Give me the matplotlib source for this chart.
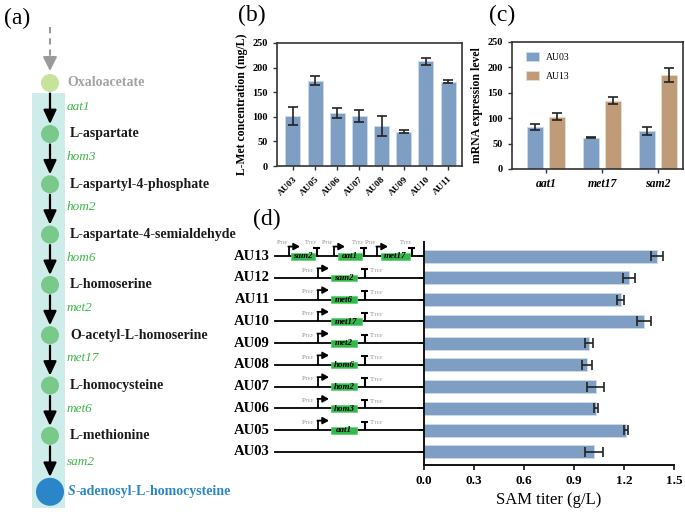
import matplotlib
matplotlib.use('Agg')
import matplotlib.pyplot as plt
from matplotlib.patches import Circle, Rectangle
import numpy as np

plt.rcParams['font.family'] = ['Liberation Serif', 'DejaVu Serif']
plt.rcParams['mathtext.fontset'] = 'custom'
plt.rcParams['mathtext.rm'] = 'Liberation Serif'
plt.rcParams['mathtext.it'] = 'Liberation Serif:italic'
plt.rcParams['mathtext.bf'] = 'Liberation Serif:bold'

# ---------------- data ----------------
met_strains = ['AU03', 'AU05', 'AU06', 'AU07', 'AU08', 'AU09', 'AU10', 'AU11']
met_conc = [101, 173, 107, 102, 81, 70, 213, 171]
met_err = [18, 9, 10, 12, 21, 3, 7, 3]

genes_c = ['aat1', 'met17', 'sam2']
mrna_au03 = [82, 62, 74]
mrna_au03_err = [6, 1, 8]
mrna_au13 = [103, 134, 185]
mrna_au13_err = [7, 7, 14]

sam_strains = ['AU13', 'AU12', 'AU11', 'AU10', 'AU09', 'AU08', 'AU07', 'AU06', 'AU05', 'AU03']
sam_titer = [1.40, 1.23, 1.18, 1.32, 0.99, 0.98, 1.03, 1.03, 1.21, 1.02]
sam_err = [0.036, 0.034, 0.022, 0.044, 0.025, 0.030, 0.052, 0.012, 0.012, 0.055]
constructs = [['sam2', 'aat1', 'met17'], ['sam2'], ['met6'], ['met17'], ['met2'],
              ['hom6'], ['hom2'], ['hom3'], ['aat1'], []]
sam_ticks = [0.0, 0.3, 0.6, 0.9, 1.2, 1.5]

metabolites = ['L-aspartate', 'L-aspartyl-4-phosphate', 'L-aspartate-4-semialdehyde',
               'L-homoserine', 'O-acetyl-L-homoserine', 'L-homocysteine', 'L-methionine']
enzymes = ['aat1', 'hom3', 'hom2', 'hom6', 'met2', 'met17', 'met6', 'sam2']

BLUE = '#7f9ec4'
TAN = '#bf9b78'
EDGE = '#222222'

W, H = 685, 515
fig = plt.figure(figsize=(W / 100, H / 100), dpi=100)


def rect(x0, y0, x1, y1):
    return [x0 / W, 1 - y1 / H, (x1 - x0) / W, (y1 - y0) / H]


def style_box(ax):
    for s in ax.spines.values():
        s.set_linewidth(1.2)
        s.set_color('#333333')
    ax.tick_params(direction='out', length=3, width=1, color='#333333')


err_kw = dict(elinewidth=1.2, capthick=1.2, ecolor=EDGE)

# ---------------- panel (b) ----------------
axb = fig.add_axes(rect(277, 43, 462, 166))
xb = np.arange(len(met_strains))
axb.bar(xb, met_conc, width=0.68, color=BLUE, edgecolor='#cfdcec', linewidth=0.6,
        yerr=met_err, capsize=3.5, error_kw=err_kw)
axb.set_xlim(-0.72, 7.63)
axb.set_ylim(0, 250)
axb.set_yticks([0, 50, 100, 150, 200, 250])
axb.set_xticks(xb)
axb.set_xticklabels(met_strains, rotation=45, ha='right', rotation_mode='anchor',
                    fontsize=6.8, fontweight='bold')
for t in axb.get_yticklabels():
    t.set_fontsize(7.5)
    t.set_fontweight('bold')
axb.set_ylabel('L-Met concentration (mg/L)', fontsize=8.5, fontweight='bold', labelpad=3)
style_box(axb)

# ---------------- panel (c) ----------------
axc = fig.add_axes(rect(512, 42, 683, 169))
xc = np.arange(len(genes_c))
off = 0.196
bw = 0.27
b1 = axc.bar(xc - off, mrna_au03, width=bw, color=BLUE, edgecolor='#cfdcec', linewidth=0.6,
             yerr=mrna_au03_err, capsize=3.5, error_kw=err_kw, label='AU03')
b2 = axc.bar(xc + off, mrna_au13, width=bw, color=TAN, edgecolor='#ecdccc', linewidth=0.6,
             yerr=mrna_au13_err, capsize=3.5, error_kw=err_kw, label='AU13')
axc.set_xlim(-0.607, 2.446)
axc.set_ylim(0, 250)
axc.set_yticks([0, 50, 100, 150, 200, 250])
axc.set_xticks(xc)
axc.set_xticklabels(genes_c, fontsize=8.5, fontweight='bold', fontstyle='italic')
for t in axc.get_yticklabels():
    t.set_fontsize(7.5)
    t.set_fontweight('bold')
axc.set_ylabel('mRNA expression level', fontsize=8.5, fontweight='bold', labelpad=3)
axc.legend(handles=[b1, b2], loc='upper left', bbox_to_anchor=(0.03, 0.99), frameon=False,
           fontsize=7, handlelength=1.4, handleheight=1.1, labelspacing=0.9, handletextpad=0.7)
style_box(axc)

# ---------------- panel (d) bars ----------------
axd = fig.add_axes(rect(424, 242, 674, 465))
yd = np.arange(len(sam_strains))[::-1]
axd.barh(yd, sam_titer, height=0.6, color=BLUE, edgecolor='#cfdcec', linewidth=0.6,
         xerr=sam_err, capsize=3.5, error_kw=err_kw)
axd.set_xlim(0, 1.5)
axd.set_ylim(-0.6, 9.65)
axd.set_xticks(sam_ticks)
axd.set_xticklabels(['%.1f' % v for v in sam_ticks], fontsize=9.5, fontweight='bold')
axd.set_yticks(yd)
axd.set_yticklabels([])
axd.spines['top'].set_visible(False)
axd.spines['right'].set_visible(False)
for s in ('left', 'bottom'):
    axd.spines[s].set_linewidth(1.4)
    axd.spines[s].set_color('#111111')
axd.tick_params(direction='out', length=3.5, width=1.2, color='#111111')
axd.set_xlabel('SAM titer (g/L)', fontsize=12, labelpad=4)

# ---------------- panel (d) gene constructs ----------------
dax = fig.add_axes(rect(228, 242, 424, 465), sharey=axd)
dax.set_xlim(228, 424)
dax.axis('off')
GREEN_BOX = '#33b84c'
GREY_T = '#8a8a8a'
P_LAB = r'P$_{\mathrm{TEF}}$'
T_LAB = r'T$_{\mathrm{TEF}}$'


def cassette(ax, y, xs, gene, box_x, box_w, t_x, compact):
    stem_h = 0.44
    # bent promoter arrow
    ax.plot([xs, xs], [y, y + stem_h], color='black', lw=1.3, solid_capstyle='butt', zorder=5)
    ax.annotate('', xy=(xs + 11, y + stem_h), xytext=(xs - 0.6, y + stem_h),
                arrowprops=dict(arrowstyle='-|>,head_length=0.45,head_width=0.25',
                                color='black', lw=1.3, mutation_scale=8,
                                shrinkA=0, shrinkB=0), zorder=5)
    # gene box
    ax.add_patch(Rectangle((box_x, y - 0.16), box_w, 0.31, facecolor=GREEN_BOX,
                           edgecolor='#5fcf70', lw=0.5, zorder=3))
    ax.text(box_x + box_w / 2, y - 0.01, gene, fontsize=6.5, fontweight='bold',
            fontstyle='italic', ha='center', va='center', zorder=4)
    # terminator
    ax.plot([t_x, t_x], [y, y + stem_h - 0.05], color='black', lw=1.5,
            solid_capstyle='butt', zorder=5)
    ax.plot([t_x - 3.5, t_x + 3.5], [y + stem_h - 0.05, y + stem_h - 0.05], color='black',
            lw=1.5, solid_capstyle='butt', zorder=5)
    if compact:
        ax.text(xs, y + 0.64, P_LAB, fontsize=4.5, color=GREY_T, ha='right', va='center')
        ax.text(t_x, y + 0.64, T_LAB, fontsize=4.5, color=GREY_T, ha='right', va='center')
    else:
        ax.text(xs - 3, y + 0.36, P_LAB, fontsize=5, color=GREY_T, ha='right', va='center')
        ax.text(t_x + 4.5, y + 0.33, T_LAB, fontsize=5, color=GREY_T, ha='left', va='center')


for yy, name, genes in zip(yd, sam_strains, constructs):
    dax.text(270, yy, name, fontsize=10.5, fontweight='bold', ha='right', va='center')
    dax.plot([275, 424], [yy, yy], color='black', lw=1.3, zorder=2)
    if len(genes) == 1:
        g = genes[0]
        w = 31 if len(g) > 4 else 26
        cassette(dax, yy, 318, g, 331, w, 365, False)
    elif len(genes) > 1:
        starts = [289, 334, 377]
        for xs, g in zip(starts, genes):
            w = 29 if len(g) > 4 else 24
            bx = xs + 2 if xs < 300 else xs + 4
            cassette(dax, yy, xs, g, bx, w, bx + w + 2, True)

# ---------------- panel (a) pathway ----------------
pax = fig.add_axes([0, 0, 262 / W, 1])
pax.set_xlim(0, 262)
pax.set_ylim(H, 0)
pax.axis('off')

CX = 50
pax.add_patch(Rectangle((32, 93), 33, 415, facecolor='#cdecea', edgecolor='none', zorder=0))
# dashed incoming arrow
pax.plot([CX, CX], [27, 60], ls=(0, (3, 2.4)), color='#9a9a9a', lw=1.5)
pax.annotate('', xy=(CX, 71), xytext=(CX, 59),
             arrowprops=dict(arrowstyle='-|>,head_length=0.6,head_width=0.3',
                             color='#9a9a9a', lw=1.5, mutation_scale=14, shrinkA=0, shrinkB=0))
# oxaloacetate
y_oxa = 83
pax.add_patch(Circle((CX, y_oxa), 9, facecolor='#c6e29b', edgecolor='none', zorder=2))
pax.text(67, y_oxa, 'Oxaloacetate', fontsize=10, fontweight='bold', color='#a3a3a3',
         va='center', ha='left')

ys = [134 + 50.3 * i for i in range(len(metabolites))]
y_sam = ys[-1] + 56
node_y = [y_oxa] + ys + [y_sam]
node_r = [9] + [9] * len(ys) + [14]

for yv, name in zip(ys, metabolites):
    pax.add_patch(Circle((CX, yv), 9, facecolor='#78c98a', edgecolor='none', zorder=2))
    pax.text(70, yv, name, fontsize=10, fontweight='bold', color='#1a1a1a',
             va='center', ha='left')

pax.add_patch(Circle((CX, y_sam), 14, facecolor='#2a86c8', edgecolor='none', zorder=2))
t1 = pax.text(68, y_sam, 'S', fontsize=10, fontweight='bold', fontstyle='italic',
              color='#2a86c8', va='center', ha='left')
pax.annotate('-adenosyl-L-homocysteine', xy=(1, 0), xycoords=t1, fontsize=10,
             fontweight='bold', color='#2a86c8', va='bottom', ha='left')

for i, enz in enumerate(enzymes):
    y0 = node_y[i] + node_r[i] + 1.5
    y1 = node_y[i + 1] - node_r[i + 1] - 1
    pax.annotate('', xy=(CX, y1), xytext=(CX, y0),
                 arrowprops=dict(arrowstyle='-|>,head_length=0.6,head_width=0.28',
                                 color='black', lw=1.6, mutation_scale=14,
                                 shrinkA=0, shrinkB=0), zorder=3)
    pax.text(67, (node_y[i] + node_y[i + 1]) / 2 - 2, enz, fontsize=9.5, fontstyle='italic',
             color='#3cb64a', va='center', ha='left')

# ---------------- panel labels ----------------
for lab, px, py in [('(a)', 17, 18), ('(b)', 252, 15), ('(c)', 502, 15), ('(d)', 267, 219)]:
    fig.text(px / W, 1 - py / H, lab, fontsize=17, ha='center', va='center')

fig.savefig('out.png', dpi=100)
